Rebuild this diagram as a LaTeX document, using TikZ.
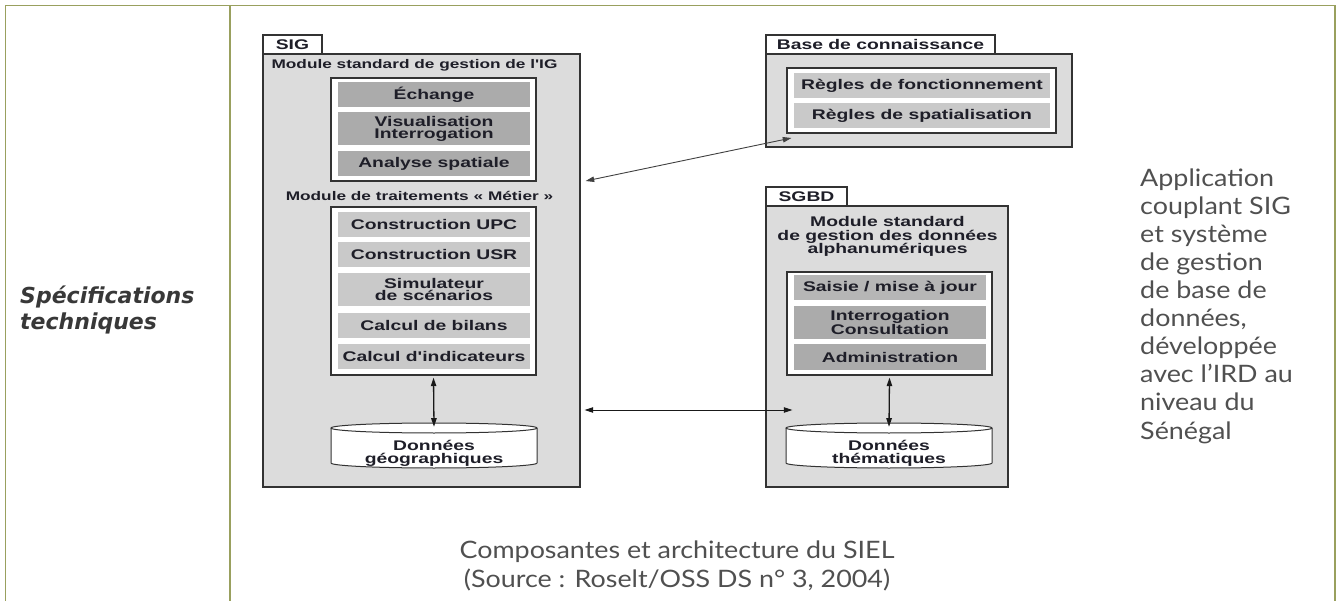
\documentclass[tikz,border=0pt]{standalone}
\usepackage{fontspec}
\usetikzlibrary{arrows.meta}

\newfontfamily\diafont[FakeStretch=1.38,Ligatures=TeXOff]{Liberation Sans}
\newfontfamily\notefont[FakeStretch=1.12]{Lato}
\newfontfamily\headfont{DejaVu Sans}

\definecolor{tablegreen}{HTML}{99A05E}
\definecolor{pkggray}{HTML}{DCDCDC}
\definecolor{itemdark}{HTML}{ABABAB}
\definecolor{itemmid}{HTML}{B6B6B6}
\definecolor{itemlight}{HTML}{C9C9C9}
\definecolor{inktext}{HTML}{1E1E28}
\definecolor{notegray}{HTML}{505050}

\begin{document}
\begin{tikzpicture}[x=1pt, y=-1pt, >={Triangle[angle=35:9pt]},
	tableline/.style={draw=tablegreen, line width=1.5pt},
	pkg/.style={draw=black!80, fill=pkggray, line width=1.2pt, inner sep=0pt},
	pkgtab/.style={draw=black!80, fill=white, line width=1.2pt, minimum height=19pt, inner sep=0pt,
		text=inktext, font=\diafont\bfseries\fontsize{14}{14}\selectfont},
	panel/.style={draw=black!80, fill=white, line width=1.2pt, inner sep=0pt},
	title/.style={inner sep=0pt, align=center, text=inktext, font=\diafont\bfseries\fontsize{12.5}{13}\selectfont},
	item/.style={fill=itemdark, minimum width=192pt, minimum height=25pt, inner sep=0pt, align=center,
		text=inktext, font=\diafont\bfseries\fontsize{14}{12.5}\selectfont},
	dbshape/.style={draw=black!80, fill=white, line width=1pt},
	dbtext/.style={minimum width=206pt, minimum height=30pt, inner sep=0pt, align=center,
		text=inktext, font=\diafont\bfseries\fontsize{14}{13}\selectfont},
	link/.style={<->, line width=1.3pt, black!90},
	notetext/.style={inner sep=0pt, align=left, text=notegray, font=\notefont\fontsize{24}{28.1}\selectfont},
	headtext/.style={inner sep=0pt, align=left, text=black!78, font=\headfont\bfseries\itshape\fontsize{22}{26}\selectfont}]

	\useasboundingbox (0,0) rectangle (1338,601);

	% table
	\draw[tableline] (5.5,601) -- (5.5,5.5) -- (1335,5.5) -- (1335,601);
	\draw[tableline] (230,5.5) -- (230,601);
	\node[headtext, anchor=west] (spec) at (20,310) {Spécifications\\techniques};

	% SIG
	\node[pkg, minimum width=317pt, minimum height=433pt] (sig) at (421.5,270.5) {};
	\node[pkgtab, minimum width=59pt] (sigtab) at (292.5,44.5) {SIG};
	\node[title] (igtitle) at (414.5,65) {Module standard de gestion de l'IG};
	\node[panel, minimum width=205pt, minimum height=103pt] (igpanel) at (433.5,129.5) {};
	\node[item] (echange) at (434,95) {Échange};
	\node[item, minimum height=33pt] (visu) at (434,129) {Visualisation\\Interrogation};
	\node[item] (analyse) at (434,163.5) {Analyse spatiale};

	\node[title] (metiertitle) at (419.5,196) {Module de traitements «~Métier~»};
	\node[panel, minimum width=205pt, minimum height=168pt] (metier) at (433.5,291) {};
	\node[item, fill=itemlight] (upc) at (434,224.5) {Construction UPC};
	\node[item, fill=itemlight] (usr) at (434,254.5) {Construction USR};
	\node[item, fill=itemlight, minimum height=33pt] (simu) at (434,289.5) {Simulateur\\de scénarios};
	\node[item, fill=itemlight] (bilans) at (434,325.5) {Calcul de bilans};
	\node[item, fill=itemlight] (indic) at (434,356.5) {Calcul d'indicateurs};

	\draw[dbshape] (331,428) -- (331,463) arc[start angle=180, end angle=0, x radius=103, y radius=5] -- (537,428);
	\draw[dbshape] (434,428) ellipse [x radius=103, y radius=5];
	\node[dbtext] (geo) at (434,453) {Données\\géographiques};
	\draw[link] ([yshift=-2pt]metier.south) -- ([yshift=11pt]geo.north);

	% base de connaissance
	\node[pkg, minimum width=306pt, minimum height=93pt] (base) at (919,100.5) {};
	\node[pkgtab, minimum width=229pt] (basetab) at (880.5,44.5) {Base de connaissance};
	\node[panel, minimum width=269pt, minimum height=65pt] (regles) at (921.5,100.5) {};
	\node[item, fill=itemlight, minimum width=256pt] (fonct) at (922,85.5) {Règles de fonctionnement};
	\node[item, fill=itemlight, minimum width=256pt] (spatial) at (922,115.5) {Règles de spatialisation};

	% SGBD
	\node[pkg, minimum width=242pt, minimum height=281pt] (sgbd) at (887,346.5) {};
	\node[pkgtab, minimum width=81pt] (sgbdtab) at (806.5,196.5) {SGBD};
	\node[title, font=\diafont\bfseries\fontsize{14}{13.5}\selectfont] (alphatitle) at (887.5,236.5)
		{Module standard\\de gestion des données\\alphanumériques};
	\node[panel, minimum width=205pt, minimum height=103pt] (gestion) at (889.5,323.5) {};
	\node[item, fill=itemmid] (saisie) at (890,288) {Saisie / mise à jour};
	\node[item, minimum height=33pt] (consult) at (890,322.5) {Interrogation\\Consultation};
	\node[item] (admin) at (890,357) {Administration};

	\draw[dbshape] (786,428) -- (786,463) arc[start angle=180, end angle=0, x radius=103, y radius=5] -- (992,428);
	\draw[dbshape] (889,428) ellipse [x radius=103, y radius=5];
	\node[dbtext] (thema) at (889,453) {Données\\thématiques};
	\draw[link] ([yshift=-2pt]gestion.south) -- ([yshift=11pt]thema.north);

	% liens entre paquetages
	\draw[link, line width=1pt] ([shift={(4,139.5)}]sig.east) -- ([shift={(27,63.5)}]sgbd.west);
	\draw[link, line width=0.9pt, black!75] ([shift={(5,-89.5)}]sig.east) -- ([shift={(26,37.5)}]base.west);

	% notes
	\node[notetext, anchor=west] (note) at (1140,306) {Application\\couplant SIG\\et système\\de gestion\\de base de\\données,\\développée\\avec l’IRD au\\niveau du\\Sénégal};
	\node[notetext, align=center, font=\notefont\fontsize{24}{29}\selectfont] (caption) at (677,566)
		{Composantes et architecture du SIEL\\(Source : Roselt/OSS DS n° 3, 2004)};
\end{tikzpicture}
\end{document}
